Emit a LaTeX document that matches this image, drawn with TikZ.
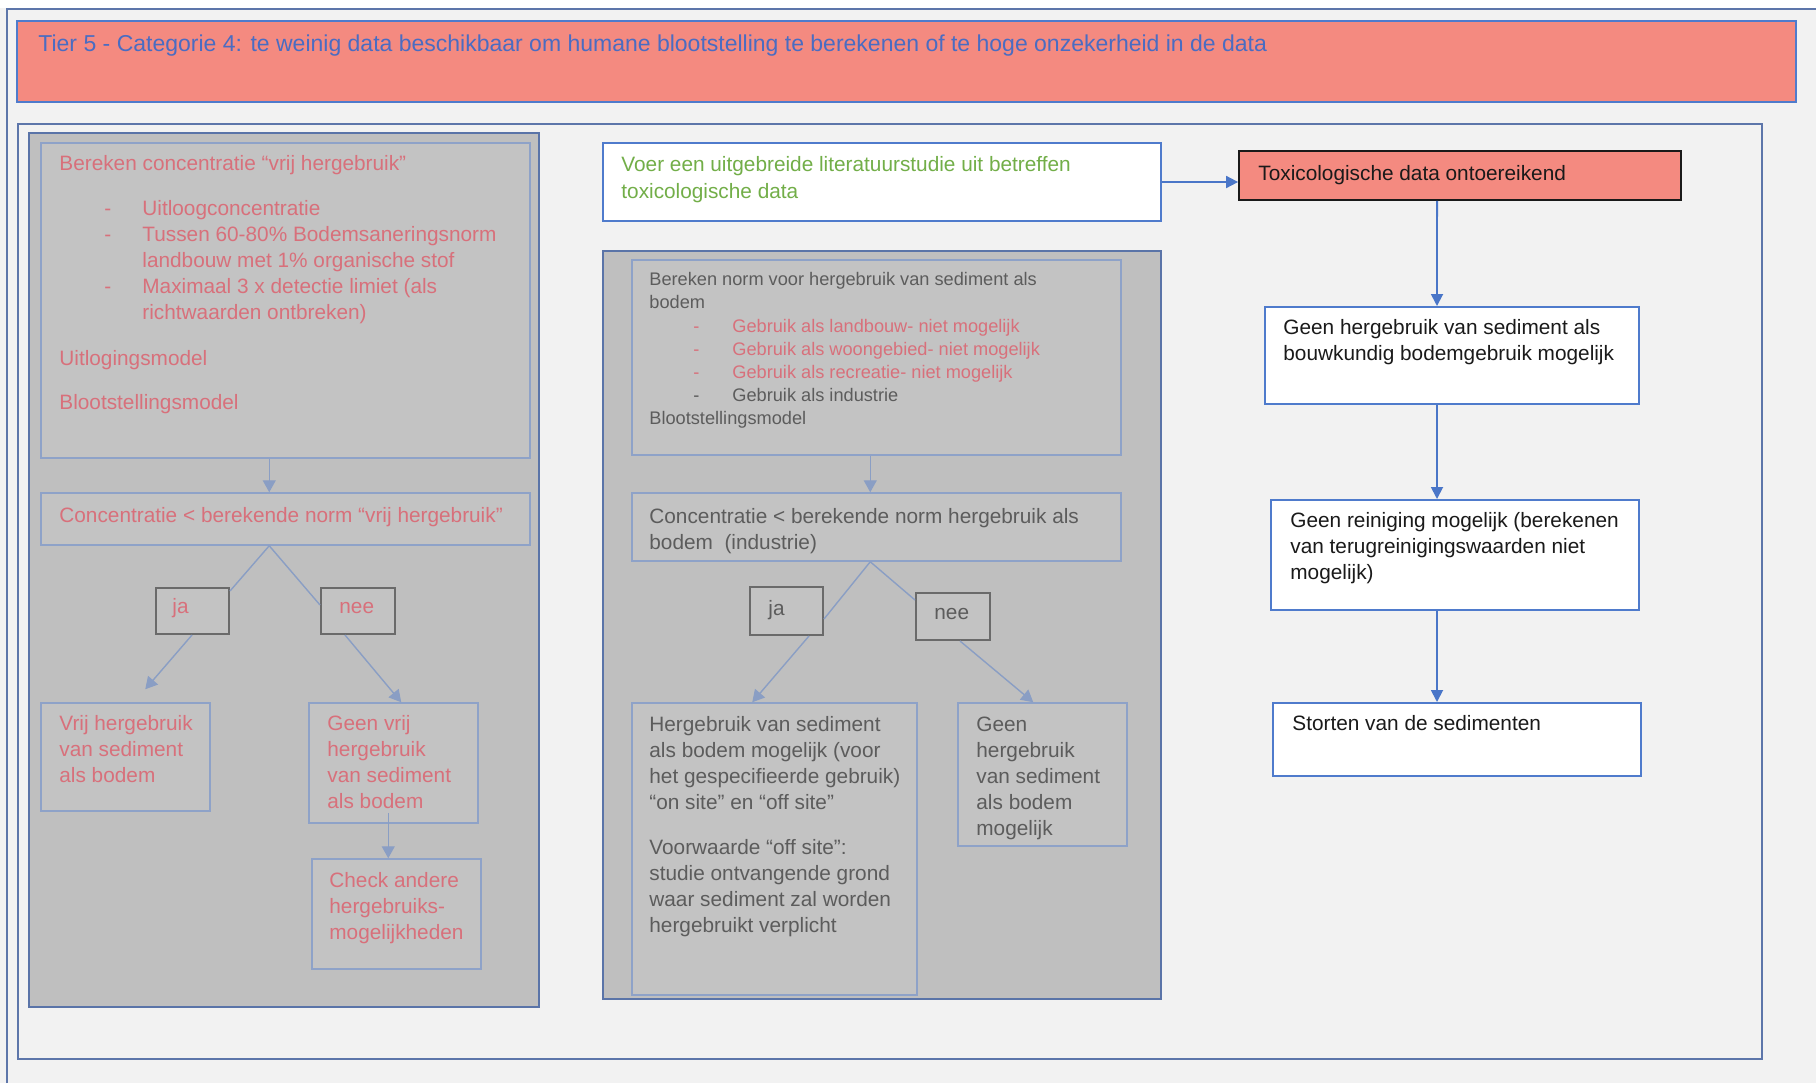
\documentclass[tikz,border=0pt]{standalone}
\usepackage{fontspec}
\setmainfont{Liberation Sans}
\usetikzlibrary{arrows.meta,calc,fit}

\definecolor{bgc}{HTML}{F2F2F2}
\definecolor{framec}{HTML}{5D76AA}
\definecolor{salmon}{HTML}{F48A80}
\definecolor{blueb}{HTML}{4F7BCC}
\definecolor{bluea}{HTML}{4A76C8}
\definecolor{headc}{HTML}{4A6CC2}
\definecolor{greent}{HTML}{72AE48}
\definecolor{panelg}{HTML}{BFBFBF}
\definecolor{panelb}{HTML}{5A74A8}
\definecolor{iboxf}{HTML}{C3C3C3}
\definecolor{iboxb}{HTML}{8EA2C8}
\definecolor{ynb}{HTML}{6A6A6A}
\definecolor{garrc}{HTML}{8A9EC4}
\definecolor{pinkt}{HTML}{D8707B}
\definecolor{darkt}{HTML}{5C5C5C}
\definecolor{blackt}{HTML}{1A1A1A}

\newcommand\fs{\fontsize{10.4}{13}\selectfont}
\newcommand\fsw{\fontsize{10.4}{13.5}\selectfont}
\newcommand\fss{\fontsize{9.1}{11.6}\selectfont}
\newcommand\fst{\fontsize{11.5}{14}\selectfont}
\newcommand\tb[1]{\begin{tabular}{@{}l@{}}#1\end{tabular}}
\newcommand\dsh[1]{\makebox[19pt][l]{#1}}

\begin{document}
\begin{tikzpicture}[x=0.5pt,y=-0.5pt,
  panel/.style={draw=panelb, line width=1pt, fill=panelg, inner sep=0pt},
  ibox/.style={draw=iboxb, line width=0.75pt, fill=iboxf, inner sep=0pt},
  yn/.style={draw=ynb, line width=1pt, fill=iboxf, inner sep=0pt},
  wbox/.style={draw=blueb, line width=1pt, fill=white, inner sep=0pt},
  gline/.style={draw=garrc, line width=0.7pt},
  garr/.style={gline, -{Triangle[length=6pt,width=6.5pt]}},
  barr/.style={draw=bluea, line width=0.9pt, -{Triangle[length=6pt,width=6pt]}},
  txt/.style={inner sep=0pt, anchor=north west, font=\fs}]

\useasboundingbox (0,0) rectangle (1816,1083);
% page background and outer frame
\fill[bgc] (0,0) rectangle (1816,1083);
\fill[white] (0,0) rectangle (1816,8);
\draw[framec, line width=1.1pt] (7,1083) -- (7,9) -- (1816,9);

% title banner
\node[fit={(17,21)(1796,102)}, draw=blueb, line width=1.2pt, fill=salmon, inner sep=0pt] (banner) {};
\node[txt, font=\fst, text=headc] (title) at (38,31) {\tb{Tier 5 - Categorie 4: te weinig data beschikbaar om humane blootstelling te berekenen of te hoge onzekerheid in de data}};

% frame around the flow chart
\node[fit={(18,124)(1762,1059)}, draw=framec, line width=1pt, inner sep=0pt] (area) {};

% ---------- left panel: vrij hergebruik ----------
\node[panel, fit={(29,133)(539,1007)}] (lpanel) {};
\node[ibox, fit={(41,143)(530,458)}] (lcalc) {};
\node[txt, text=pinkt] (lcalct) at (59,152) {\tb{Bereken concentratie “vrij hergebruik”}};
\node[txt, text=pinkt] (lcalcl) at (104,197) {\begin{tabular}{@{}l@{}l@{}}
\dsh{-}&Uitloogconcentratie\\
\dsh{-}&Tussen 60-80\% Bodemsaneringsnorm\\
&landbouw met 1\% organische stof\\
\dsh{-}&Maximaal 3 x detectie limiet (als\\
&richtwaarden ontbreken)\end{tabular}};
\node[txt, text=pinkt] (lcalcu) at (59,347) {\tb{Uitlogingsmodel}};
\node[txt, text=pinkt] (lcalcb) at (59,391) {\tb{Blootstellingsmodel}};

\node[ibox, fit={(41,493)(530,545)}] (lconc) {};
\node[txt, text=pinkt] (lconct) at (59,504) {\tb{Concentratie < berekende norm “vrij hergebruik”}};

\node[yn, fit={(156,588)(229,634)}] (lja) {};
\node[txt, text=pinkt] (ljat) at (172,595) {\tb{ja}};
\node[yn, fit={(321,588)(395,634)}] (lnee) {};
\node[txt, text=pinkt] (lneet) at (339,595) {\tb{nee}};

\node[ibox, fit={(41,703)(210,811)}] (lvrij) {};
\node[txt, text=pinkt] (lvrijt) at (59,712) {\tb{Vrij hergebruik\\van sediment\\als bodem}};
\node[ibox, fit={(309,703)(478,823)}] (lgeen) {};
\node[txt, text=pinkt] (lgeent) at (327,712) {\tb{Geen vrij\\hergebruik\\van sediment\\als bodem}};
\node[ibox, fit={(312,859)(481,969)}] (lcheck) {};
\node[txt, text=pinkt] (lcheckt) at (329,869) {\tb{Check andere\\hergebruiks-\\mogelijkheden}};

\draw[garr] ($(lcalc.south west)+(229,0)$) -- ($(lconc.north west)+(229,0)$);
\draw[gline] ($(lconc.south west)+(229,0)$) -- ($(lja.north east)+(0,4)$);
\draw[gline] ($(lconc.south west)+(229,0)$) -- ($(lnee.north west)+(0,18)$);
\draw[garr] ($(lja.south west)+(37,0)$) -- ($(lvrij.north west)+(105,-13)$);
\draw[garr] ($(lnee.south west)+(25,0)$) -- ($(lgeen.north west)+(93,0)$);
\draw[garr] ($(lgeen.south west)+(80,-11)$) -- ($(lcheck.north west)+(77,0)$);

% ---------- middle: literature study and reuse as soil ----------
\node[wbox, fit={(603,143)(1161,221)}] (voer) {};
\node[txt, font=\fsw, text=greent] (voert) at (621,152) {\tb{Voer een uitgebreide literatuurstudie uit betreffen\\toxicologische data}};

\node[panel, fit={(603,251)(1161,999)}] (mpanel) {};
\node[ibox, fit={(632,260)(1121,455)}] (mcalc) {};
\node[txt, font=\fss, text=darkt] (mcalct) at (649,269) {\begin{tabular}{@{}l@{}l@{}}
\multicolumn{2}{@{}l@{}}{Bereken norm voor hergebruik van sediment als}\\
\multicolumn{2}{@{}l@{}}{bodem}\\
\makebox[41.5pt][l]{\hspace{22pt}\textcolor{pinkt}{-}}&\textcolor{pinkt}{Gebruik als landbouw- niet mogelijk}\\
\makebox[41.5pt][l]{\hspace{22pt}\textcolor{pinkt}{-}}&\textcolor{pinkt}{Gebruik als woongebied- niet mogelijk}\\
\makebox[41.5pt][l]{\hspace{22pt}\textcolor{pinkt}{-}}&\textcolor{pinkt}{Gebruik als recreatie- niet mogelijk}\\
\makebox[41.5pt][l]{\hspace{22pt}-}&Gebruik als industrie\\
\multicolumn{2}{@{}l@{}}{Blootstellingsmodel}\end{tabular}};

\node[ibox, fit={(632,493)(1121,561)}] (mconc) {};
\node[txt, text=darkt] (mconct) at (649,505) {\tb{Concentratie < berekende norm hergebruik als\\bodem~ (industrie)}};

\node[yn, fit={(750,587)(823,635)}] (mja) {};
\node[txt, text=darkt] (mjat) at (768,597) {\tb{ja}};
\node[yn, fit={(916,593)(990,640)}] (mnee) {};
\node[txt, text=darkt] (mneet) at (934,601) {\tb{nee}};

\node[ibox, fit={(632,703)(917,995)}] (mherg) {};
\node[txt, text=darkt] (mhergt) at (649,713) {\tb{Hergebruik van sediment\\als bodem mogelijk (voor\\het gespecifieerde gebruik)\\“on site” en “off site”\\[9.5pt]Voorwaarde “off site”:\\studie ontvangende grond\\waar sediment zal worden\\hergebruikt verplicht}};
\node[ibox, fit={(958,703)(1127,846)}] (mgeen) {};
\node[txt, text=darkt] (mgeent) at (976,713) {\tb{Geen\\hergebruik\\van sediment\\als bodem\\mogelijk}};

\draw[garr] ($(mcalc.south west)+(239,0)$) -- ($(mconc.north west)+(239,0)$);
\draw[gline] ($(mconc.south west)+(239,0)$) -- ($(mja.north east)+(0,33)$);
\draw[gline] ($(mconc.south west)+(239,0)$) -- ($(mnee.north west)+(0,8)$);
\draw[garr] ($(mja.south west)+(60,0)$) -- ($(mherg.north west)+(121,0)$);
\draw[garr] ($(mnee.south west)+(45,0)$) -- ($(mgeen.north west)+(76,0)$);

% ---------- right column ----------
\node[fit={(1239,151)(1681,200)}, draw=blackt, line width=0.9pt, fill=salmon, inner sep=0pt] (tox) {};
\node[txt, text=blackt] (toxt) at (1258,162) {\tb{Toxicologische data ontoereikend}};

\node[wbox, fit={(1265,307)(1639,404)}] (rgeen) {};
\node[txt, text=blackt] (rgeent) at (1283,316) {\tb{Geen hergebruik van sediment als\\bouwkundig bodemgebruik mogelijk}};
\node[wbox, fit={(1271,500)(1639,610)}] (rrein) {};
\node[txt, text=blackt] (rreint) at (1290,509) {\tb{Geen reiniging mogelijk (berekenen\\van terugreinigingswaarden niet\\mogelijk)}};
\node[wbox, fit={(1273,703)(1641,776)}] (rstort) {};
\node[txt, text=blackt] (rstortt) at (1292,712) {\tb{Storten van de sedimenten}};

\draw[barr] (voer.east) -- (voer.east -| tox.west);
\draw[barr] ($(tox.south west)+(199,0)$) -- ($(rgeen.north west)+(173,0)$);
\draw[barr] ($(rgeen.south west)+(173,0)$) -- ($(rrein.north west)+(167,0)$);
\draw[barr] ($(rrein.south west)+(167,0)$) -- ($(rstort.north west)+(165,0)$);

\end{tikzpicture}
\end{document}
